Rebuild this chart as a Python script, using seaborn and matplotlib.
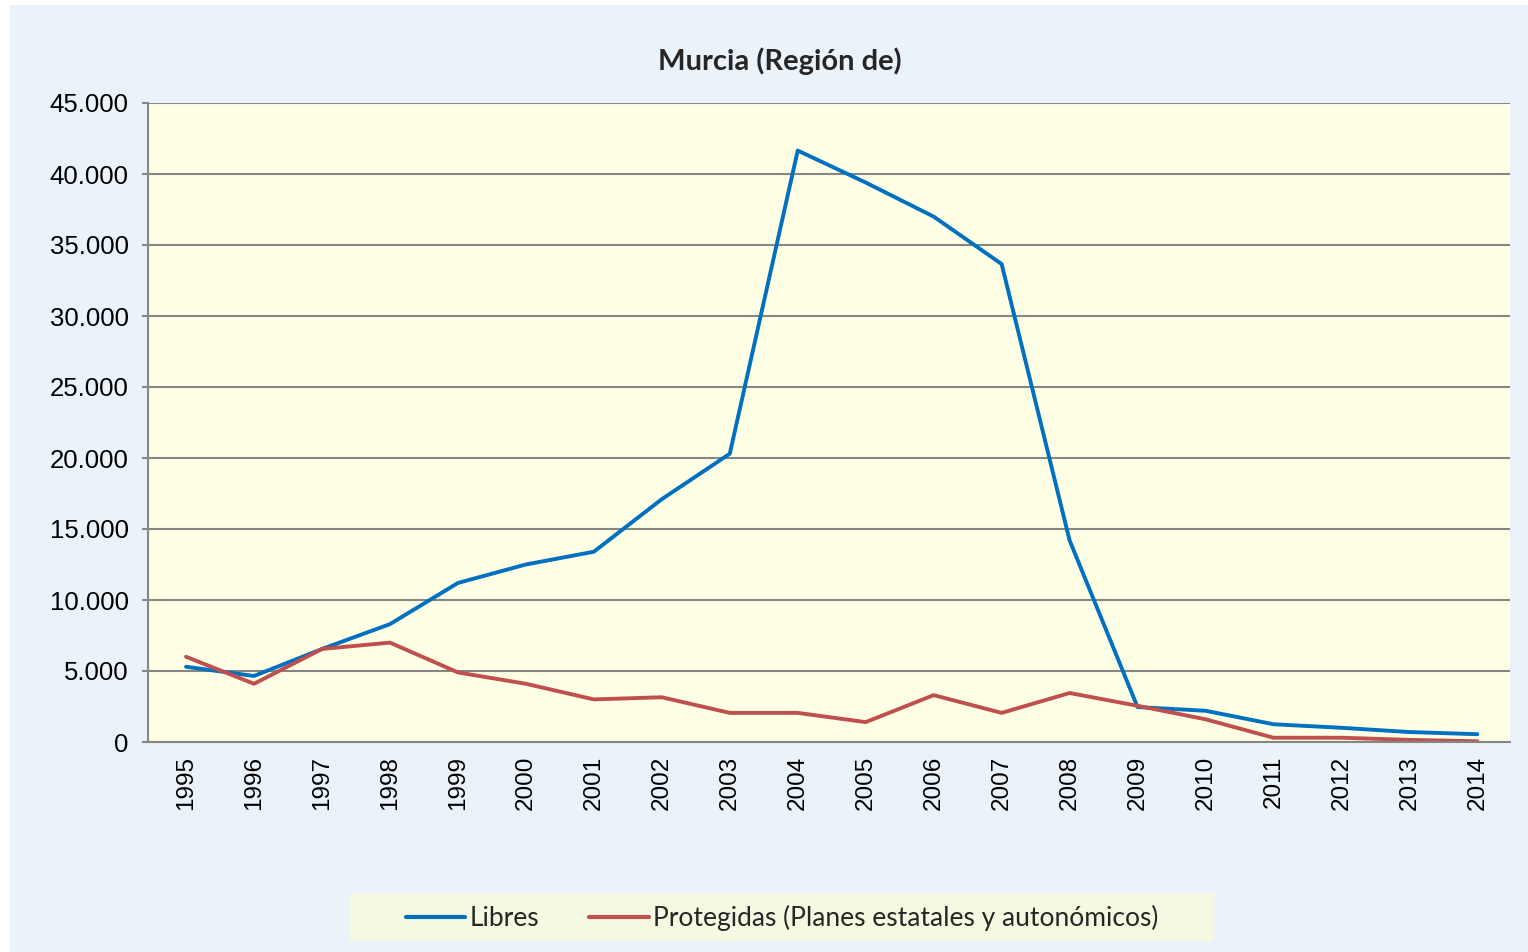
import matplotlib
matplotlib.use("Agg")
import matplotlib.pyplot as plt
from matplotlib.patches import Rectangle
import seaborn as sns
import pandas as pd

years = [str(y) for y in range(1995, 2015)]
libres = [5300, 4650, 6550, 8300, 11200, 12500, 13400, 17100, 20300, 41650,
          39400, 37000, 33660, 14200, 2460, 2200, 1250, 1000, 700, 550]
protegidas = [6000, 4100, 6550, 7000, 4900, 4100, 3000, 3150, 2050, 2050,
              1400, 3300, 2050, 3450, 2550, 1600, 300, 300, 150, 50]
series_names = ["Libres", "Protegidas (Planes estatales y autonómicos)"]
y_ticks = [0, 5000, 10000, 15000, 20000, 25000, 30000, 35000, 40000, 45000]
y_tick_labels = ["0", "5.000", "10.000", "15.000", "20.000", "25.000",
                 "30.000", "35.000", "40.000", "45.000"]
title = "Murcia (Región de)"

df = pd.DataFrame({
    "year": years * 2,
    "value": libres + protegidas,
    "serie": [series_names[0]] * len(years) + [series_names[1]] * len(years),
})

sns.set_theme(style="white")
plt.rcParams["font.family"] = ["Liberation Sans", "DejaVu Sans"]

W, H = 1528, 952
fig = plt.figure(figsize=(W / 100, H / 100), dpi=100)
fig.patch.set_facecolor("white")
fig.add_artist(Rectangle((10 / W, 0), 1 - 10 / W, 1 - 5 / H,
                         transform=fig.transFigure, facecolor="#EBF3FA",
                         edgecolor="none", zorder=-10))
# legend box background
fig.add_artist(Rectangle((350 / W, 1 - 941 / H), (1213 - 350) / W, 48 / H,
                         transform=fig.transFigure, facecolor="#F5F9E1",
                         edgecolor="none", zorder=-5))

ax = fig.add_axes([148 / W, 1 - 742 / H, (1510 - 148) / W, (742 - 103) / H])
ax.set_facecolor("#FFFFE5")

palette = {series_names[0]: "#0070C0", series_names[1]: "#C0504D"}
sns.lineplot(data=df, x="year", y="value", hue="serie", palette=palette,
             linewidth=2.8, ax=ax, sort=False, legend=True)

ax.set_xlim(-0.56, len(years) - 0.52)
ax.set_ylim(0, 45000)
ax.set_yticks(y_ticks)
ax.set_yticklabels(y_tick_labels, fontsize=18.5, color="black")
ax.set_xticks(range(len(years)))
ax.set_xticklabels(years, rotation=90, fontsize=17.5, color="black")
ax.set_xlabel("")
ax.set_ylabel("")

for y in y_ticks[1:]:
    ax.axhline(y, color="#868686", linewidth=1.5, zorder=0.5)

for s in ["top", "right"]:
    ax.spines[s].set_visible(False)
for s in ["left", "bottom"]:
    ax.spines[s].set_color("#868686")
    ax.spines[s].set_linewidth(1.5)

ax.tick_params(axis="y", which="major", length=4, width=1.5, color="#868686",
               direction="out", left=True, pad=10)
ax.tick_params(axis="x", which="major", length=0, pad=10)

fig.text(780 / W, 1 - 61 / H, title, fontsize=21, fontweight="bold",
         family=["Lato", "DejaVu Sans"], ha="center", va="center")

handles, labels = ax.get_legend_handles_labels()
leg = ax.legend(handles, labels, loc="center", bbox_to_anchor=(782 / W, 1 - 918 / H),
                bbox_transform=fig.transFigure, ncol=2, frameon=False,
                prop={"family": ["Lato", "DejaVu Sans"], "size": 19},
                handlelength=2.25, handletextpad=0.15, columnspacing=1.9,
                borderpad=0.3, borderaxespad=0)
for line in leg.get_lines():
    line.set_linewidth(3)

fig.savefig("out.png", dpi=100)
